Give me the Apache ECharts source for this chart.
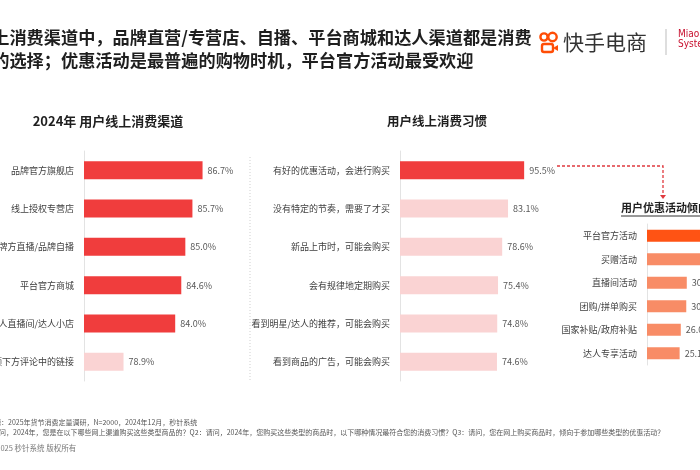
<!DOCTYPE html>
<html><head><meta charset="utf-8">
<script src="https://cdn.jsdelivr.net/npm/echarts@6/dist/echarts.min.js"></script>
<style>html,body{margin:0;padding:0;background:#fff}#c{width:700px;height:470px}</style>
</head><body><div id="c"></div>
<script>
var channels = ['品牌官方旗舰店','线上授权专营店','品牌方直播/品牌自播','平台官方商城','达人直播间/达人小店','短视频下方评论中的链接'];
var channelValues = [86.7,85.7,85.0,84.6,84.0,78.9];
var habits = ['有好的优惠活动，会进行购买','没有特定的节奏，需要了才买','新品上市时，可能会购买','会有规律地定期购买','看到明星/达人的推荐，可能会购买','看到商品的广告，可能会购买'];
var habitValues = [95.5,83.1,78.6,75.4,74.8,74.6];
var promos = ['平台官方活动','买赠活动','直播间活动','团购/拼单购买','国家补贴/政府补贴','达人专享活动'];
var promoValues = [58.2,43.5,30.6,30.2,26.0,25.1];

var FONT = '"Noto Sans CJK SC","Noto Sans",sans-serif';
var RED = '#f03d3d', PINK = '#fad3d3', ORANGE = '#ff5314', SALMON = '#f88c66';

function colorize(vals, fn){ return vals.map(function(v,i){ return {value:v, itemStyle:{color:fn(i)}}; }); }

var chart = echarts.init(document.getElementById('c'), null, {renderer:'canvas'});
var catAxis = function(idx, data){
  return {type:'category', gridIndex:idx, data:data, inverse:true,
    axisLine:{show:true, lineStyle:{color:'#e3e3e3', width:1}}, axisTick:{show:false},
    axisLabel:{fontSize:9, color:'#404040', margin:10, fontFamily:FONT}};
};
var valAxis = function(idx, min, max){
  return {type:'value', gridIndex:idx, min:min, max:max, show:false, splitLine:{show:false}};
};
var lbl = {show:true, position:'right', distance:5, fontSize:9, color:'#595959', fontFamily:FONT,
  formatter:function(p){ return p.value.toFixed(1)+'%'; }};

chart.setOption({
  animation:false,
  textStyle:{fontFamily:FONT},
  grid:[
    {left:84, top:151, width:152, height:230, outerBoundsMode:'none', containLabel:false},
    {left:400, top:151, width:130, height:230, outerBoundsMode:'none', containLabel:false},
    {left:647, top:224, width:130, height:141, outerBoundsMode:'none', containLabel:false}
  ],
  xAxis:[valAxis(0,75,90), valAxis(1,0,100), valAxis(2,0,100)],
  yAxis:[catAxis(0,channels), catAxis(1,habits), catAxis(2,promos)],
  series:[
    {type:'bar', xAxisIndex:0, yAxisIndex:0, barWidth:18, label:lbl,
      data:colorize(channelValues, function(i){ return i<5?RED:PINK; })},
    {type:'bar', xAxisIndex:1, yAxisIndex:1, barWidth:18, label:lbl,
      data:colorize(habitValues, function(i){ return i===0?RED:PINK; })},
    {type:'bar', xAxisIndex:2, yAxisIndex:2, barWidth:12, label:lbl,
      data:colorize(promoValues, function(i){ return i===0?ORANGE:SALMON; })}
  ],
  graphic:[
    {type:'text', left:-25, top:29, style:{text:'线上消费渠道中，品牌直营/专营店、自播、平台商城和达人渠道都是消费', font:'bold 17.2px '+FONT, fill:'#1f1f1f'}},
    {type:'text', left:-25, top:52, style:{text:'者的选择；优惠活动是最普遍的购物时机，平台官方活动最受欢迎', font:'bold 17.2px '+FONT, fill:'#1f1f1f'}},
    // logo
    {type:'circle', shape:{cx:544, cy:37, r:3.6}, style:{fill:'none', stroke:'#ff4d06', lineWidth:2.4}},
    {type:'circle', shape:{cx:552.5, cy:37, r:4.2}, style:{fill:'none', stroke:'#ff4d06', lineWidth:2.4}},
    {type:'rect', shape:{x:542, y:44, width:11, height:8, r:2}, style:{fill:'none', stroke:'#ff4d06', lineWidth:2.4}},
    {type:'polygon', shape:{points:[[553,48],[558,45],[558,51]]}, style:{fill:'#ff4d06'}},
    {type:'text', left:563, top:32, style:{text:'快手电商', font:'21px '+FONT, fill:'#333333'}},
    {type:'line', shape:{x1:666, y1:29, x2:666, y2:55}, style:{stroke:'#bdbdbd', lineWidth:1}},
    {type:'text', left:678, top:29, style:{text:'Miao\nSyste', font:'10px "Liberation Sans Narrow","DejaVu Sans Condensed",sans-serif', fill:'#c8102e', lineHeight:10}},
    // panel titles
    {type:'text', x:108, y:121, style:{text:'2024年 用户线上消费渠道', font:'bold 13px '+FONT, fill:'#1f1f1f', align:'center', verticalAlign:'middle'}},
    {type:'text', x:437, y:121, style:{text:'用户线上消费习惯', font:'bold 12.5px '+FONT, fill:'#1f1f1f', align:'center', verticalAlign:'middle'}},
    {type:'text', x:621, y:208, style:{text:'用户优惠活动倾向', font:'bold 11px '+FONT, fill:'#1f1f1f', align:'left', verticalAlign:'middle'}},
    {type:'line', shape:{x1:621, y1:216, x2:710, y2:216}, style:{stroke:'#333', lineWidth:1}},
    // separator
    {type:'line', shape:{x1:250, y1:157, x2:250, y2:380}, style:{stroke:'#cfcfcf', lineWidth:1, lineDash:[1,2]}},
    // connector
    {type:'polyline', shape:{points:[[557,166],[663,166],[663,196]]}, style:{fill:'none', stroke:'#e0393e', lineWidth:1.3, lineDash:[3,2]}},
    {type:'polygon', shape:{points:[[660,195],[666,195],[663,199]]}, style:{fill:'#e0393e'}},
    // footer
    {type:'text', left:-27, top:419, style:{text:'数据来源：2025年货节消费定量调研，N=2000，2024年12月，秒针系统', font:'7px '+FONT, fill:'#555'}},
    {type:'text', left:-24, top:429, style:{text:'Q1：请问，2024年，您是在以下哪些网上渠道购买这些类型商品的？Q2：请问，2024年，您购买这些类型的商品时，以下哪种情况最符合您的消费习惯？Q3：请问，您在网上购买商品时，倾向于参加哪些类型的优惠活动？', font:'7px '+FONT, fill:'#555'}},
    {type:'text', left:-10, top:444, style:{text:'©2025 秒针系统 版权所有', font:'7.5px '+FONT, fill:'#7a7a7a'}}
  ]
});
</script></body></html>
